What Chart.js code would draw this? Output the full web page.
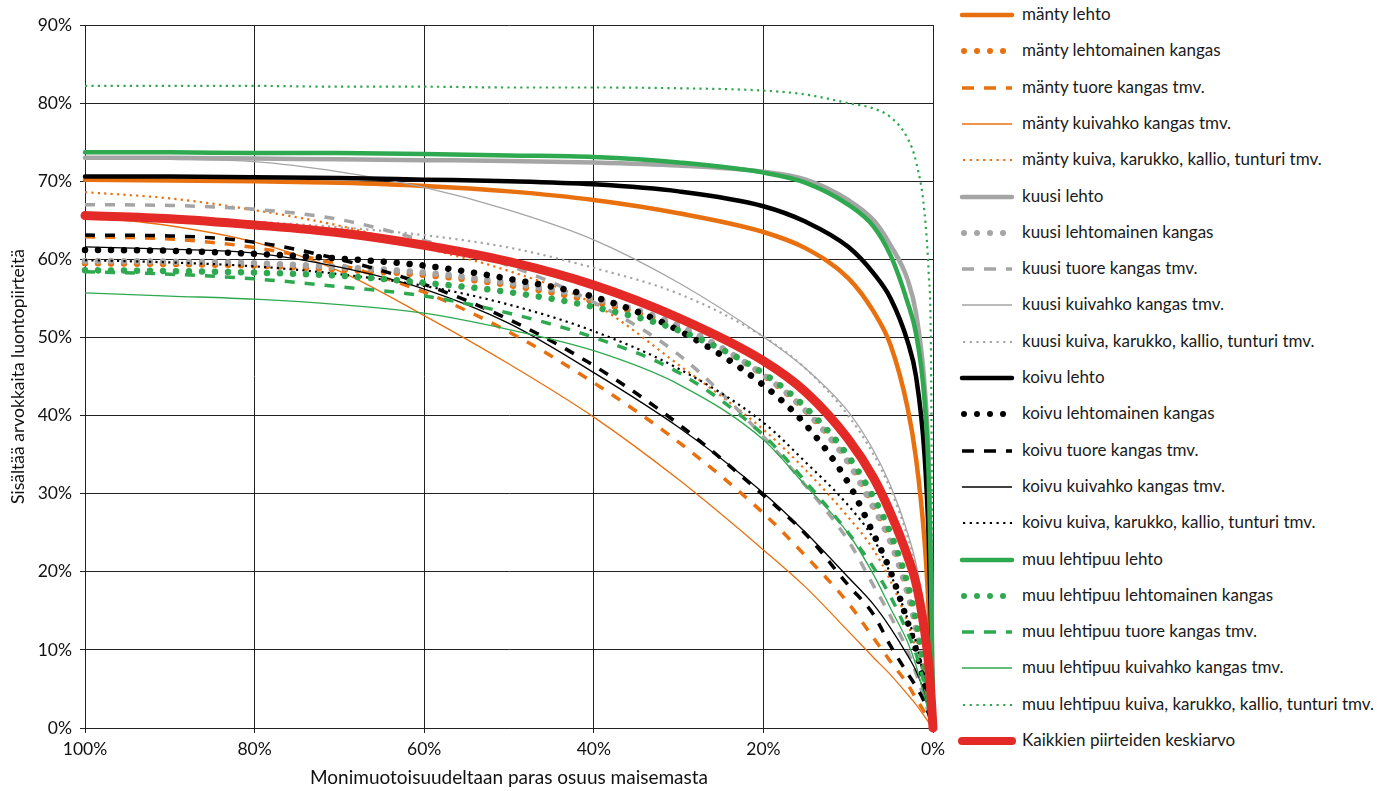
<!DOCTYPE html>
<html>
<head>
<meta charset="utf-8">
<script src="https://cdn.jsdelivr.net/npm/chart.js@4.4.1/dist/chart.umd.min.js"></script>
<style>
  html, body { margin: 0; padding: 0; background: #fff; }
  #wrap { position: relative; width: 1397px; height: 791px; }
  #chart { position: absolute; left: 0; top: 0; }
  .item { position: absolute; left: 958px; height: 20px; line-height: 20px; white-space: nowrap;
          font-family: Lato, "Open Sans", sans-serif; font-size: 17px; color: #1a1a1a; }
  .item svg { position: absolute; left: 0; top: 0; }
  .item span { position: absolute; left: 64px; top: -1px; }
</style>
</head>
<body>
<div id="wrap">
  <canvas id="chart" width="955" height="791"></canvas>
  <div id="legend"></div>
</div>
<script>
// osuus maisemasta (%), sama kaikille sarjoille
const xs = [100, 90, 80, 70, 60, 50, 40, 30, 20, 15, 10, 7, 5, 3, 2, 1, 0.5, 0.25, 0];

const mantyLehto       = [70.2, 70.1, 70.0, 69.8, 69.4, 68.7, 67.6, 65.9, 63.5, 61.4, 57.6, 53.3, 49.0, 41.0, 34.5, 24.0, 15.0, 8.0, 0];
const mantyLehtomainen = [59.5, 59.4, 59.2, 58.7, 58.0, 56.7, 54.6, 51.3, 45.2, 40.6, 34.2, 28.4, 24.0, 17.5, 13.0, 7.0, 3.5, 1.8, 0];
const mantyTuore       = [62.9, 62.6, 61.5, 59.3, 55.8, 50.7, 44.2, 36.6, 27.5, 22.0, 16.0, 11.5, 8.5, 5.6, 3.8, 2.0, 1.0, 0.5, 0];
const mantyKuivahko    = [65.5, 64.3, 62.2, 58.5, 52.8, 46.6, 39.8, 31.8, 22.8, 18.0, 12.4, 9.0, 6.8, 4.3, 3.0, 1.5, 0.7, 0.35, 0];
const mantyKuiva       = [68.6, 67.8, 66.3, 64.3, 61.5, 58.5, 54.3, 46.5, 38.2, 33.0, 27.0, 22.8, 18.8, 13.5, 10.0, 6.0, 3.0, 1.5, 0];

const kuusiLehto       = [73.0, 73.0, 72.9, 72.8, 72.7, 72.6, 72.4, 72.0, 71.2, 70.2, 67.6, 65.0, 61.8, 57.4, 53.1, 44.0, 34.0, 22.0, 0];
const kuusiLehtomainen = [59.8, 59.7, 59.5, 59.0, 58.3, 57.0, 55.0, 51.5, 45.2, 40.6, 34.0, 28.2, 23.8, 17.3, 12.8, 6.8, 3.4, 1.7, 0];
const kuusiTuore       = [67.0, 66.9, 66.4, 65.1, 62.4, 59.2, 54.5, 47.8, 37.3, 31.0, 24.0, 18.2, 14.3, 9.9, 7.0, 3.6, 1.8, 0.9, 0];
const kuusiKuivahko    = [72.9, 72.8, 72.5, 71.2, 69.2, 66.3, 62.5, 57.0, 50.1, 46.0, 40.5, 35.5, 31.0, 25.0, 21.0, 14.5, 9.0, 5.0, 0];
const kuusiKuiva       = [65.4, 65.2, 64.8, 64.1, 63.1, 61.5, 58.9, 55.6, 50.1, 46.0, 40.0, 35.0, 30.5, 24.5, 20.5, 14.0, 8.5, 4.5, 0];

const koivuLehto       = [70.6, 70.6, 70.5, 70.4, 70.2, 70.0, 69.6, 68.7, 66.8, 64.8, 61.6, 58.2, 55.0, 49.5, 45.0, 35.0, 24.0, 14.0, 0];
const koivuLehtomainen = [61.2, 61.1, 60.7, 60.1, 59.2, 57.5, 55.2, 50.9, 43.9, 38.8, 31.4, 24.8, 20.0, 13.6, 10.0, 5.5, 2.8, 1.4, 0];
const koivuTuore       = [63.1, 63.0, 62.2, 60.0, 56.8, 52.3, 46.4, 38.9, 29.8, 24.8, 18.3, 14.5, 10.5, 7.0, 5.3, 3.3, 1.8, 0.9, 0];
const koivuKuivahko    = [61.6, 61.3, 60.8, 59.0, 56.2, 51.8, 45.5, 38.5, 30.1, 25.0, 19.3, 15.8, 12.8, 9.3, 7.3, 4.5, 2.5, 1.3, 0];
const koivuKuiva       = [59.9, 59.6, 59.1, 58.1, 56.6, 54.2, 50.8, 46.0, 39.1, 34.0, 28.5, 24.2, 19.7, 14.0, 11.0, 6.0, 3.0, 1.5, 0];

const muuLehto         = [73.7, 73.7, 73.6, 73.6, 73.5, 73.3, 73.1, 72.4, 71.1, 69.8, 67.0, 64.2, 60.5, 54.5, 50.5, 42.0, 32.0, 20.0, 0];
const muuLehtomainen   = [58.6, 58.5, 58.3, 57.9, 57.0, 55.8, 53.9, 50.9, 45.4, 41.0, 34.8, 29.5, 24.9, 18.5, 13.8, 7.5, 3.8, 1.9, 0];
const muuTuore         = [58.4, 58.1, 57.5, 56.5, 55.3, 53.1, 50.0, 45.5, 37.5, 31.5, 25.0, 20.5, 16.8, 12.2, 9.5, 5.5, 3.0, 1.5, 0];
const muuKuivahko      = [55.7, 55.3, 54.9, 54.2, 53.1, 51.0, 48.3, 44.0, 36.9, 31.0, 24.9, 19.6, 15.3, 11.0, 8.0, 4.0, 2.0, 1.0, 0];
const muuKuiva         = [82.2, 82.2, 82.2, 82.1, 82.1, 82.0, 82.0, 81.9, 81.6, 81.1, 80.0, 79.3, 78.2, 75.5, 72.5, 66.0, 58.0, 49.0, 0];

const keskiarvo        = [65.6, 65.2, 64.4, 63.4, 61.8, 59.7, 56.7, 52.5, 47.0, 43.0, 37.0, 32.0, 27.5, 22.0, 18.5, 12.5, 8.0, 4.5, 0];

const yTicks = [0, 10, 20, 30, 40, 50, 60, 70, 80, 90];
const xTicks = [100, 80, 60, 40, 20, 0];

const ORANGE = "#e8700f";
const GRAY = "#a5a5a5";
const BLACK = "#000000";
const GREEN = "#2ea94f";
const RED = "#e42a27";

// viivatyylit
const styles = {
  lehto:       { width: 4.5, dash: [], cap: "round" },
  lehtomainen: { width: 6.5, dash: [0.001, 13], cap: "round" },
  tuore:       { width: 3.5, dash: [10, 10], cap: "butt" },
  kuivahko:    { width: 1.3, dash: [], cap: "butt" },
  kuiva:       { width: 2.2, dash: [2.2, 4.2], cap: "butt" },
  ka:          { width: 9, dash: [], cap: "round" },
};

const series = [
  ["mänty lehto", mantyLehto, ORANGE, "lehto"],
  ["mänty lehtomainen kangas", mantyLehtomainen, ORANGE, "lehtomainen"],
  ["mänty tuore kangas tmv.", mantyTuore, ORANGE, "tuore"],
  ["mänty kuivahko kangas tmv.", mantyKuivahko, ORANGE, "kuivahko"],
  ["mänty kuiva, karukko, kallio, tunturi tmv.", mantyKuiva, ORANGE, "kuiva"],
  ["kuusi lehto", kuusiLehto, GRAY, "lehto"],
  ["kuusi lehtomainen kangas", kuusiLehtomainen, GRAY, "lehtomainen"],
  ["kuusi tuore kangas tmv.", kuusiTuore, GRAY, "tuore"],
  ["kuusi kuivahko kangas tmv.", kuusiKuivahko, GRAY, "kuivahko"],
  ["kuusi kuiva, karukko, kallio, tunturi tmv.", kuusiKuiva, GRAY, "kuiva"],
  ["koivu lehto", koivuLehto, BLACK, "lehto"],
  ["koivu lehtomainen kangas", koivuLehtomainen, BLACK, "lehtomainen"],
  ["koivu tuore kangas tmv.", koivuTuore, BLACK, "tuore"],
  ["koivu kuivahko kangas tmv.", koivuKuivahko, BLACK, "kuivahko"],
  ["koivu kuiva, karukko, kallio, tunturi tmv.", koivuKuiva, BLACK, "kuiva"],
  ["muu lehtipuu lehto", muuLehto, GREEN, "lehto"],
  ["muu lehtipuu lehtomainen kangas", muuLehtomainen, GREEN, "lehtomainen"],
  ["muu lehtipuu tuore kangas tmv.", muuTuore, GREEN, "tuore"],
  ["muu lehtipuu kuivahko kangas tmv.", muuKuivahko, GREEN, "kuivahko"],
  ["muu lehtipuu kuiva, karukko, kallio, tunturi tmv.", muuKuiva, GREEN, "kuiva"],
  ["Kaikkien piirteiden keskiarvo", keskiarvo, RED, "ka"],
];

const datasets = series.map(([label, values, color, kind], i) => {
  const s = styles[kind];
  return {
    label: label,
    data: xs.map((x, j) => ({ x: x, y: values[j] })),
    borderColor: color,
    backgroundColor: color,
    borderWidth: s.width,
    borderDash: s.dash,
    borderCapStyle: s.cap,
    borderJoinStyle: "round",
    cubicInterpolationMode: "monotone",
    pointRadius: 0,
    fill: false,
    clip: false,
    order: series.length - i, // myöhemmät sarjat päälle
  };
});

const tickFont = { family: "Lato, 'Open Sans', sans-serif", size: 17.5 };

new Chart(document.getElementById("chart"), {
  type: "line",
  data: { datasets: datasets },
  options: {
    responsive: false,
    animation: false,
    layout: { padding: { top: 25, right: 22, left: 0, bottom: 0 } },
    plugins: { legend: { display: false }, tooltip: { enabled: false } },
    scales: {
      x: {
        type: "linear",
        reverse: true,
        min: 0,
        max: 100,
        afterBuildTicks: (scale) => { scale.ticks = xTicks.map((v) => ({ value: v })); },
        afterFit: (scale) => { scale.height = 63; },
        ticks: { callback: (v) => v + "%", font: tickFont, color: "#111", maxRotation: 0, padding: 6 },
        grid: { color: "#222", lineWidth: 1, tickLength: 5 },
        border: { color: "#222", width: 1 },
        title: { display: true, text: "Monimuotoisuudeltaan paras osuus maisemasta",
                 font: { family: "Lato, 'Open Sans', sans-serif", size: 19 }, color: "#111",
                 padding: { top: 0, bottom: 2 } },
      },
      y: {
        min: 0,
        max: 90,
        afterBuildTicks: (scale) => { scale.ticks = yTicks.map((v) => ({ value: v })); },
        afterFit: (scale) => { scale.width = 85; },
        ticks: { callback: (v) => v + "%", font: tickFont, color: "#111", padding: 8 },
        grid: { color: "#222", lineWidth: 1, tickLength: 5 },
        border: { color: "#222", width: 1 },
        title: { display: true, text: "Sisältää arvokkaita luontopiirteitä",
                 font: { family: "Lato, 'Open Sans', sans-serif", size: 17.5 }, color: "#111",
                 padding: { top: 8, bottom: 0 } },
      },
    },
  },
});

// selite HTML:nä, näytteet SVG-viivoina
const legend = document.getElementById("legend");
series.forEach(([label, values, color, kind], i) => {
  const s = styles[kind];
  const item = document.createElement("div");
  item.className = "item";
  item.style.top = (15 + 36.3 * i - 10) + "px";
  let x1 = 4, x2 = 54, dash = "", cap = s.cap, w = s.width;
  if (kind === "lehtomainen") { x1 = 6; x2 = 46; dash = "0.001 13"; w = 6; }
  if (kind === "tuore") { dash = "12 10"; }
  if (kind === "kuiva") { x1 = 5; dash = "2.2 4.5"; }
  if (kind === "ka") { w = 8; }
  item.innerHTML =
    '<svg width="60" height="20"><line x1="' + x1 + '" y1="10" x2="' + x2 + '" y2="10" stroke="' + color +
    '" stroke-width="' + w + '" stroke-linecap="' + cap + '"' + (dash ? ' stroke-dasharray="' + dash + '"' : "") +
    "/></svg><span>" + label + "</span>";
  legend.appendChild(item);
});
</script>
</body>
</html>
